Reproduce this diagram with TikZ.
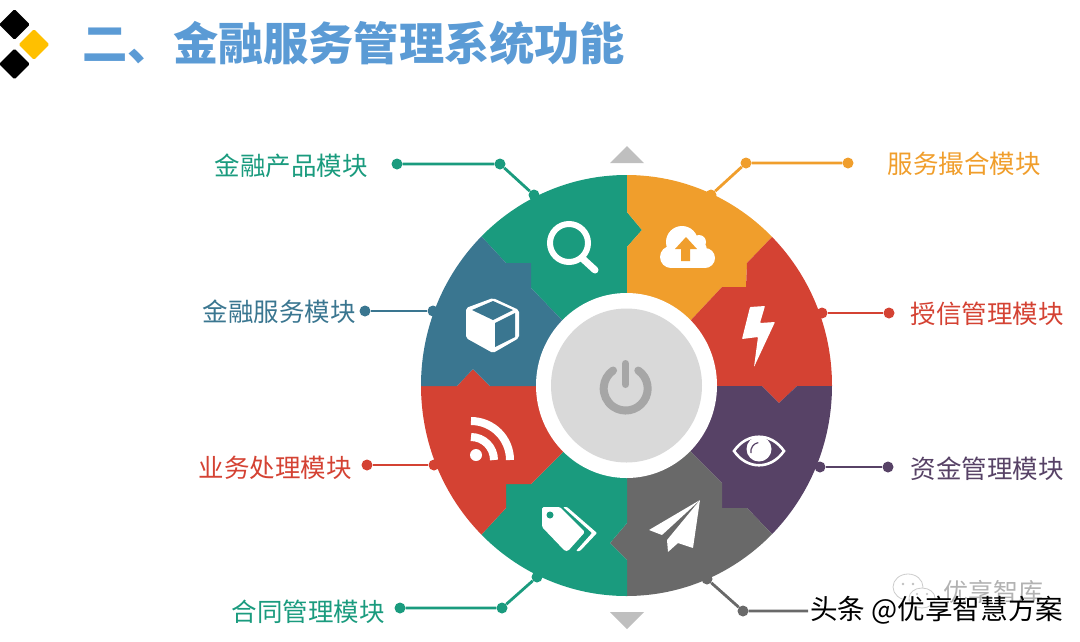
\documentclass[tikz,border=0pt]{standalone}
\usepackage{fontspec}
\setmainfont{Noto Sans CJK SC}
\usetikzlibrary{shapes,positioning}

\definecolor{wheelteal}{HTML}{1A9B7E}
\definecolor{wheelorange}{HTML}{F09E2C}
\definecolor{wheelred}{HTML}{D44233}
\definecolor{wheelblue}{HTML}{3A7690}
\definecolor{wheelpurple}{HTML}{574266}
\definecolor{wheelgray}{HTML}{696969}
\definecolor{titleblue}{HTML}{5B9BD5}
\definecolor{logoyellow}{HTML}{FFC000}

\begin{document}
\begin{tikzpicture}[
    x=1pt, y=-1pt,
    logo/.style={diamond, minimum size=31pt, inner sep=0pt, rounded corners=1.5pt},
    dot/.style={circle, fill=#1, inner sep=0pt, minimum size=11pt},
    leader/.style={draw=#1, line width=2.8pt},
    modlabel/.style={font=\fontsize{25.5}{28}\selectfont, inner sep=0pt},
    marker/.style={fill=black!25, draw=none},
    stamp/.style={font=\fontsize{27.6}{30}\selectfont, inner sep=0pt},
    chat/.style={fill=white, draw=black!20, line width=0.8pt}
]
    \useasboundingbox (0,0) rectangle (1080,641);

    % Logo
    \node [logo, fill=black] (logotop) at (14.5,24.5) {};
    \node [logo, fill=black] (logobot) at (14.5,64) {};
    \node [logo, fill=logoyellow] (logomid) at (34,44.5) {};

    % Title
    \node [anchor=west, inner sep=0pt, text=titleblue, font=\fontsize{45.2}{50}\selectfont\bfseries] (title) at (82.5,43) {二、金融服务管理系统功能};

    % Up and down markers
    \fill [marker] (627,146) -- (644,163) -- (610,163) -- cycle;
    \fill [marker] (627,629) -- (644,612) -- (610,612) -- cycle;

    % Wheel
    \begin{scope}
        \clip (626.5,385.5) ellipse [x radius=205.5pt, y radius=210.5pt];
        \fill [wheelteal] (627,150) -- (627,212) -- (642,230) -- (627,247) -- (627,386) -- (562,320) -- (531,288) -- (531,263) -- (506,263) -- (482,237) -- (440,195) -- (440,150) -- cycle;
        \fill [wheelorange] (627,150) -- (627,212) -- (642,230) -- (627,247) -- (627,386) -- (692,319) -- (722,287) -- (746,287) -- (747,263) -- (772,237) -- (815,195) -- (815,150) -- cycle;
        \fill [wheelred] (627,386) -- (692,319) -- (722,287) -- (746,287) -- (747,263) -- (772,237) -- (815,195) -- (860,195) -- (860,386) -- (797,386) -- (779,403) -- (762,386) -- cycle;
        \fill [wheelpurple] (627,386) -- (762,386) -- (779,403) -- (797,386) -- (860,386) -- (860,575) -- (815,575) -- (772,534) -- (747,508) -- (722,508) -- (722,483) -- (692,453) -- cycle;
        \fill [wheelgray] (627,386) -- (692,453) -- (722,483) -- (722,508) -- (747,508) -- (772,534) -- (815,575) -- (815,620) -- (627,620) -- (627,560) -- (610,543) -- (627,523) -- cycle;
        \fill [wheelteal] (627,386) -- (627,523) -- (610,543) -- (627,560) -- (627,620) -- (440,620) -- (440,575) -- (482,534) -- (506,508) -- (506,484) -- (531,484) -- (562,453) -- cycle;
        \fill [wheelred] (627,386) -- (562,453) -- (531,484) -- (506,484) -- (506,508) -- (482,534) -- (440,575) -- (395,575) -- (395,386) -- (457,386) -- (473,369) -- (490,386) -- cycle;
        \fill [wheelblue] (627,386) -- (490,386) -- (473,369) -- (457,386) -- (395,386) -- (395,195) -- (440,195) -- (482,237) -- (506,263) -- (531,263) -- (531,288) -- (562,320) -- cycle;
    \end{scope}

    % Hub
    \fill [white] (626.5,385.5) ellipse [x radius=90.5pt, y radius=92.5pt];
    \fill [black!15] (626.5,385.5) ellipse [x radius=75.5pt, y radius=77pt];
    \draw [black!35, line width=8pt, line cap=round] (638.3,370.5) arc [start angle=55, end angle=-235, radius=22pt];
    \draw [black!35, line width=7pt, line cap=round] (625.5,363.5) -- (625.5,384.5);

    % Magnifier
    \draw [white, line width=6pt] (569,243) circle [radius=19pt];
    \draw [white, line width=7pt, line cap=round] (583,259) -- (595,270);

    % Cloud
    \fill [white] (671,257) circle [radius=11pt] (682,242) circle [radius=16pt] (699,242) circle [radius=7pt] (697,250) circle [radius=10pt] (705,258) circle [radius=10pt];
    \fill [white] (671,248) rectangle (705,268);
    \fill [wheelorange] (686,237) -- (697,249) -- (690,249) -- (690,261) -- (681,261) -- (681,249) -- (675,249) -- cycle;

    % Bolt
    \fill [white, rounded corners=0.8pt] (750,307) -- (765,306) -- (760,323) -- (775,322) -- (754,367) -- (758,337) -- (742,339) -- cycle;

    % Cube
    \fill [white, rounded corners=2pt] (493,298) -- (519,310) -- (519,338) -- (493,353) -- (466,338) -- (466,308) -- cycle;
    \fill [wheelblue] (493,301) -- (513,310) -- (493,320) -- (472,310) -- cycle;
    \fill [wheelblue] (495,323) -- (515,313) -- (515,337) -- (495,347) -- cycle;

    % Eye
    \draw [white, line width=2.6pt] (734,451) .. controls (747,432) and (771,432) .. (784,451) .. controls (771,470) and (747,470) .. (734,451) -- cycle;
    \fill [white] (759,449) circle [radius=12.5pt];
    \draw [wheelpurple, line width=1.2pt] (751,453) arc [start angle=190, end angle=100, radius=9pt];

    % Feed
    \fill [white] (476,455) circle [radius=6pt];
    \draw [white, line width=8pt] (471,437) arc [start angle=90, end angle=0, radius=23pt];
    \draw [white, line width=8pt] (471,421) arc [start angle=90, end angle=0, radius=39pt];

    % Tags
    \fill [white, rounded corners=1.5pt] (542,507) -- (560,507) -- (585,532) -- (568,551) -- (565,551) -- (542,527) -- cycle;
    \fill [wheelteal] (550,515) circle [radius=3.5pt];
    \fill [white, rounded corners=1pt] (563,507) -- (567,507) -- (597,533) -- (580,551) -- (576,551) -- (592,533) -- cycle;

    % Plane
    \fill [white, rounded corners=0.5pt] (700,500) -- (649,530) -- (662,535) -- cycle;
    \fill [white, rounded corners=0.5pt] (700,500) -- (667,540) -- (668,552) -- (678,543) -- (693,548) -- cycle;

    % Labels
    \node [modlabel, text=wheelteal] (prod) at (291,166) {金融产品模块};
    \node [modlabel, text=wheelorange] (match) at (964,164) {服务撮合模块};
    \node [modlabel, text=wheelblue] (serv) at (279,312) {金融服务模块};
    \node [modlabel, text=wheelred] (credit) at (987,314) {授信管理模块};
    \node [modlabel, text=wheelred] (biz) at (275,468) {业务处理模块};
    \node [modlabel, text=wheelpurple] (fund) at (987,469) {资金管理模块};
    \node [modlabel, text=wheelteal] (cont) at (308,612) {合同管理模块};

    % Leaders
    \node [dot=wheelteal] (prodA) at (397,164) {};
    \node [dot=wheelteal] (prodB) at (500,164) {};
    \node [dot=wheelteal] (prodC) at (534,195) {};
    \path [leader=wheelteal] (prodA) -- (prodB) -- (prodC);

    \node [dot=wheelorange] (matchA) at (848,163) {};
    \node [dot=wheelorange] (matchB) at (746,163) {};
    \node [dot=wheelorange] (matchC) at (711,195) {};
    \path [leader=wheelorange] (matchA) -- (matchB) -- (matchC);

    \node [dot=wheelblue] (servA) at (365,311) {};
    \node [dot=wheelblue] (servB) at (433,311) {};
    \path [leader=wheelblue] (servA) -- (servB);

    \node [dot=wheelred] (creditA) at (889,313) {};
    \node [dot=wheelred] (creditB) at (822,313) {};
    \path [leader=wheelred] (creditA) -- (creditB);

    \node [dot=wheelred] (bizA) at (367,465) {};
    \node [dot=wheelred] (bizB) at (434,465) {};
    \path [leader=wheelred] (bizA) -- (bizB);

    \node [dot=wheelpurple] (fundA) at (888,467) {};
    \node [dot=wheelpurple] (fundB) at (820,467) {};
    \path [leader=wheelpurple] (fundA) -- (fundB);

    \node [dot=wheelteal] (contA) at (400,608) {};
    \node [dot=wheelteal] (contB) at (502,608) {};
    \node [dot=wheelteal] (contC) at (537,577) {};
    \path [leader=wheelteal] (contA) -- (contB) -- (contC);

    \coordinate (graySide) at (808,611);
    \node [dot=wheelgray] (grayB) at (743,611) {};
    \node [dot=wheelgray] (grayC) at (707,579) {};
    \path [leader=wheelgray] (graySide) -- (grayB) -- (grayC);

    % Stamp
    \path [chat] (908,587) ellipse [x radius=15pt, y radius=13pt];
    \path [chat] (922,598) ellipse [x radius=13pt, y radius=10pt];
    \fill [black!25] (903,584) circle [radius=1.3pt] (913,584) circle [radius=1.3pt] (917,594) circle [radius=1.1pt] (927,594) circle [radius=1.1pt];
    \node [anchor=west, inner sep=0pt, text=black!30, font=\fontsize{25}{28}\selectfont] (wechat) at (943,592) {优享智库};
    \node [stamp, anchor=west, text=white] (stampback) at (811.5,611) {头条 @优享智慧方案};
    \node [stamp, anchor=west, text=black] (stampfront) at (810,610) {头条 @优享智慧方案};

\end{tikzpicture}
\end{document}
